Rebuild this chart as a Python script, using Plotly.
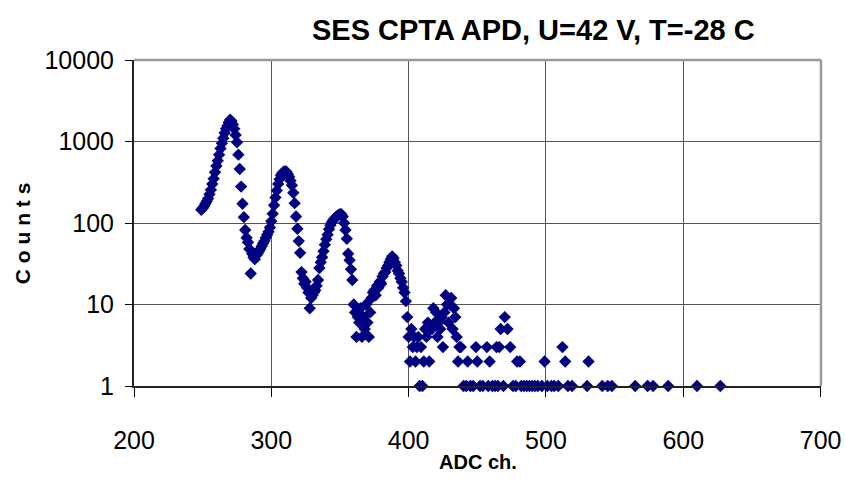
import plotly.graph_objects as go

# ---- data ----
adc_channel = [
    249, 250, 251, 252, 253, 254, 255, 256, 257, 258, 259, 260, 261, 262, 263, 264, 265, 266, 267, 268,
    269, 270, 271, 272, 273, 274, 275, 276, 277, 278, 279, 280, 281, 282, 283, 284, 285, 286, 287, 288,
    289, 290, 291, 292, 293, 294, 295, 296, 297, 298, 299, 300, 301, 302, 303, 304, 305, 306, 307, 308,
    309, 310, 311, 312, 313, 314, 315, 316, 317, 318, 319, 320, 321, 322, 323, 324, 325, 326, 327, 328,
    329, 330, 331, 332, 333, 334, 335, 336, 337, 338, 339, 340, 341, 342, 343, 344, 345, 346, 347, 348,
    349, 350, 351, 352, 353, 354, 355, 356, 357, 358, 359, 360, 361, 362, 363, 364, 365, 366, 367, 368,
    369, 370, 371, 372, 373, 374, 375, 376, 377, 378, 379, 380, 381, 382, 383, 384, 385, 386, 387, 388,
    389, 390, 391, 392, 393, 394, 395, 396, 397, 398, 399, 400, 401, 402, 403, 404, 405, 406, 407, 408,
    409, 410, 411, 412, 413, 414, 415, 416, 417, 418, 419, 420, 421, 422, 423, 424, 425, 426, 427, 428,
    429, 430, 431, 432, 433, 434, 435, 436, 437, 438, 440, 442, 443, 445, 447, 449, 450, 452, 454, 457,
    458, 459, 461, 463, 464, 465, 466, 467, 469, 470, 472, 474, 476, 478, 479, 481, 482, 484, 486, 488,
    490, 492, 494, 497, 499, 501, 504, 506, 509, 512, 514, 516, 519, 530, 531, 541, 545, 548, 565, 574,
    578, 589, 610, 627,
]
counts = [
    145, 152, 160, 172, 185, 200, 225, 255, 300, 350, 420, 500, 580, 690, 820, 950, 1100, 1270, 1430, 1560,
    1720, 1850, 1780, 1620, 1430, 1200, 980, 690, 460, 280, 172, 118, 82, 66, 58, 48, 24, 42, 38, 36,
    40, 42, 45, 48, 52, 56, 60, 66, 72, 78, 88, 105, 130, 165, 205, 250, 300, 345, 385, 410,
    425, 430, 425, 400, 370, 330, 290, 235, 175, 120, 85, 60, 43, 25, 21, 18, 19, 16, 14, 9,
    12, 13, 14, 15, 17, 20, 28, 33, 38, 45, 54, 63, 72, 84, 94, 102, 108, 113, 118, 122,
    126, 128, 128, 120, 100, 82, 64, 42, 35, 27, 20, 10, 8, 4, 7, 6, 9, 4, 7, 5,
    10, 6, 4, 8, 12, 14, 15, 13, 17, 16, 19, 18, 22, 24, 25, 28, 30, 33, 36, 39,
    37, 33, 30, 26, 24, 21, 19, 16, 14, 11, 7, 4, 2, 5, 3, 4, 2, 3, 4, 1,
    3, 1, 2, 5, 4, 6, 2, 5, 5, 9, 6, 8, 4, 6, 5, 7, 3, 8, 13, 10,
    6, 10, 12, 5, 9, 7, 4, 2, 3, 3, 1, 1, 2, 1, 1, 3, 2, 1, 1, 3,
    1, 2, 1, 1, 3, 1, 3, 5, 1, 7, 5, 3, 1, 1, 2, 2, 1, 1, 1, 1,
    1, 1, 1, 1, 2, 1, 1, 1, 1, 3, 2, 1, 1, 1, 2, 1, 1, 1, 1, 1,
    1, 1, 1, 1,
]
x_ticks = [200, 300, 400, 500, 600, 700]
y_ticks = [1, 10, 100, 1000, 10000]
y_tick_text = ["1", "10", "100", "1000", "10000"]
title_text = "SES CPTA APD, U=42 V, T=-28 C"
x_title = "ADC ch."
y_title = "C o u n t s"

FONT = "Liberation Sans, Arial, sans-serif"

fig = go.Figure()
fig.add_trace(go.Scatter(
    x=adc_channel, y=counts, mode="markers",
    marker=dict(symbol="diamond", size=9.5, color="#000080", line=dict(width=0)),
    showlegend=False, cliponaxis=False,
))

fig.update_layout(
    template="none",
    width=845, height=496,
    margin=dict(l=134, r=24, t=60, b=110, autoexpand=False),
    paper_bgcolor="white", plot_bgcolor="white",
    font=dict(family=FONT, color="black"),
    xaxis=dict(
        range=[200, 700.3], tickvals=x_ticks, ticks="outside", ticklen=9,
        tickcolor="black", tickwidth=1, automargin=False,
        showgrid=True, gridcolor="#555555", gridwidth=1.3,
        showline=True, linecolor="#222222", linewidth=2,
        zeroline=False, tickfont=dict(size=25, family=FONT),
        ticklabelstandoff=22, ticklabeloverflow="allow",
    ),
    yaxis=dict(
        type="log", range=[0, 4], tickvals=y_ticks, ticktext=y_tick_text,
        ticks="outside", ticklen=7, tickcolor="black", tickwidth=1, automargin=False,
        showgrid=True, gridcolor="#555555", gridwidth=1.3,
        showline=True, linecolor="#222222", linewidth=2,
        zeroline=False, tickfont=dict(size=25, family=FONT),
        ticklabelstandoff=6,
    ),
    shapes=[
        dict(type="line", xref="paper", yref="paper", x0=0, x1=1, y0=1, y1=1,
             line=dict(color="#999999", width=2.5), layer="above"),
        dict(type="line", xref="paper", yref="paper", x0=1, x1=1, y0=0, y1=1,
             line=dict(color="#999999", width=2.5), layer="above"),
    ],
    annotations=[
        dict(text="<b>" + title_text + "</b>", xref="paper", yref="paper",
             x=0.581, y=1.092, xanchor="center", yanchor="middle", showarrow=False,
             font=dict(size=29, family=FONT, color="black")),
        dict(text="<b>" + x_title + "</b>", xref="paper", yref="paper",
             x=0.5, y=-0.233, xanchor="center", yanchor="middle", showarrow=False,
             font=dict(size=20, family=FONT, color="black")),
        dict(text="<b>" + y_title + "</b>", xref="paper", yref="paper",
             x=-0.163, y=0.469, xanchor="center", yanchor="middle", showarrow=False,
             textangle=-90, font=dict(size=21, family=FONT, color="black")),
    ],
)

fig.write_html("out.html")
